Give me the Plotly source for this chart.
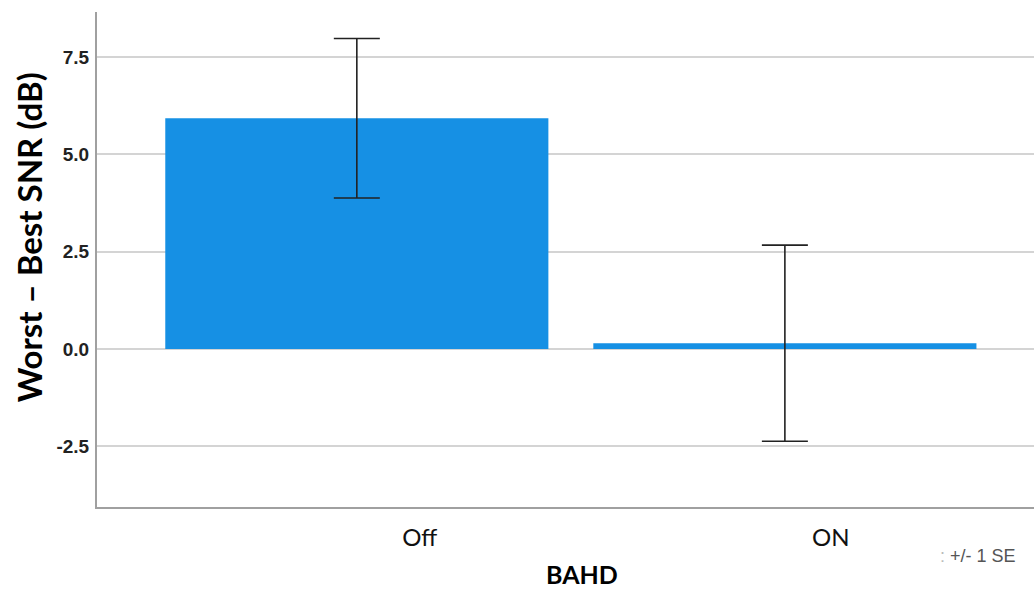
import plotly.graph_objects as go

categories = ["Off", "ON"]
means = [5.93, 0.15]
se = [2.05, 2.52]
y_ticks = [-2.5, 0.0, 2.5, 5.0, 7.5]
y_tick_labels = ["-2.5", "0.0", "2.5", "5.0", "7.5"]

fig = go.Figure()
fig.add_trace(go.Bar(
    x=[0, 1], y=means, width=0.895,
    marker=dict(color="#1690e4", line=dict(width=0)),
    error_y=dict(type="data", array=se, visible=True, color="#222222", thickness=1.6, width=23),
    hoverinfo="skip",
))

fig.update_layout(
    width=1034, height=592,
    margin=dict(l=97, r=0, t=12, b=85),
    plot_bgcolor="white", paper_bgcolor="white",
    showlegend=False,
    xaxis=dict(
        range=[-0.607, 1.582], tickvals=[0.147, 1.107], ticktext=categories,
        showgrid=False, zeroline=False, showline=True, linecolor="#a0a0a0", linewidth=2,
        ticks="", tickfont=dict(family="Lato, Open Sans, sans-serif", size=24, color="#111"),
        ticklabelstandoff=8,
    ),
    yaxis=dict(
        range=[-4.06, 8.66], tickvals=y_ticks, ticktext=[f"<b>{t}</b>" for t in y_tick_labels],
        showgrid=True, gridcolor="#d4d4d4", gridwidth=1.5, zeroline=False,
        showline=True, linecolor="#a0a0a0", linewidth=2, ticks="",
        ticklabelstandoff=2,
        tickfont=dict(family="Liberation Sans Narrow, Arial Narrow, Liberation Sans, sans-serif", size=19, color="#222"),
    ),
    annotations=[
        dict(text="<b>Worst – Best SNR (dB)</b>", xref="paper", yref="paper", x=-0.0726, y=0.545,
             xanchor="center", yanchor="middle", textangle=-90, showarrow=False,
             font=dict(family="Lato, Open Sans, sans-serif", size=33, color="#000")),
        dict(text="<b>BAHD</b>", xref="paper", yref="paper", x=0.5176, y=-0.136,
             xanchor="center", yanchor="middle", showarrow=False,
             font=dict(family="Lato, Open Sans, sans-serif", size=25, color="#000")),
        dict(text="<span style='color:#bbb'>:</span> +/- 1 SE", xref="paper", yref="paper", x=0.983, y=-0.099,
             xanchor="right", yanchor="middle", showarrow=False,
             font=dict(family="Liberation Sans, Arial, sans-serif", size=18, color="#555")),
    ],
)

fig.write_html("out.html", config={"displayModeBar": False},
               post_script="document.body.style.margin='0';document.body.style.overflow='hidden';")
